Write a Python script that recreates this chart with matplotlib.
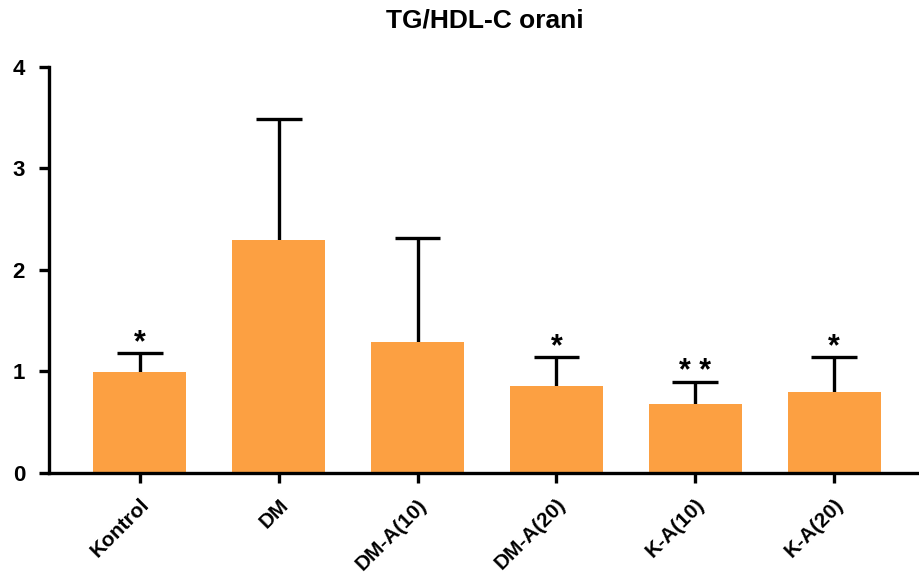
import matplotlib
matplotlib.use("Agg")
import matplotlib.pyplot as plt
import numpy as np

categories = ["Kontrol", "DM", "DM-A(10)", "DM-A(20)", "K-A(10)", "K-A(20)"]
means = [0.99, 2.29, 1.29, 0.86, 0.68, 0.80]
err_upper = [0.19, 1.20, 1.02, 0.28, 0.22, 0.34]
signif = ["*", "", "", "*", "* *", "*"]
yticks = [0, 1, 2, 3, 4]
title = "TG/HDL-C orani"

plt.rcParams['font.family'] = ['Liberation Sans', 'DejaVu Sans']

fig = plt.figure(figsize=(9.19, 5.86), dpi=100)
ax = fig.add_axes([0.053, 0.193, 0.947, 0.693])

x = np.arange(len(categories))
bar_color = '#FCA042'
ax.bar(x, means, width=0.67, color=bar_color, edgecolor='none', zorder=2)

tops = np.array(means) + np.array(err_upper)
cap_half = 0.165
ax.vlines(x, means, tops, color='black', linewidth=2.4, zorder=1)
ax.hlines(tops, x - cap_half, x + cap_half, color='black', linewidth=2.4, zorder=1)

for xi, t, s in zip(x, tops, signif):
    if s:
        ax.text(xi, t - 0.05, s, ha='center', va='bottom', fontsize=22,
                fontweight='bold', color='black')

ax.set_xlim(-0.655, 5.61)
ax.set_ylim(0, 4)
ax.set_yticks(yticks)
ax.set_yticklabels([str(v) for v in yticks], fontsize=16, fontweight='bold')
ax.set_xticks(x)
ax.set_xticklabels(categories, fontsize=15, fontweight='bold', rotation=45,
                   ha='right', rotation_mode='anchor')

for side in ['top', 'right']:
    ax.spines[side].set_visible(False)
for side in ['left', 'bottom']:
    ax.spines[side].set_linewidth(2.4)
ax.tick_params(axis='both', direction='out', width=2.4, length=7, colors='black')
ax.tick_params(axis='y', pad=10)
ax.tick_params(axis='x', pad=9)

fig.text(0.527, 0.965, title, ha='center', va='center', fontsize=19,
         fontweight='bold')

fig.savefig("out.png", dpi=100)
